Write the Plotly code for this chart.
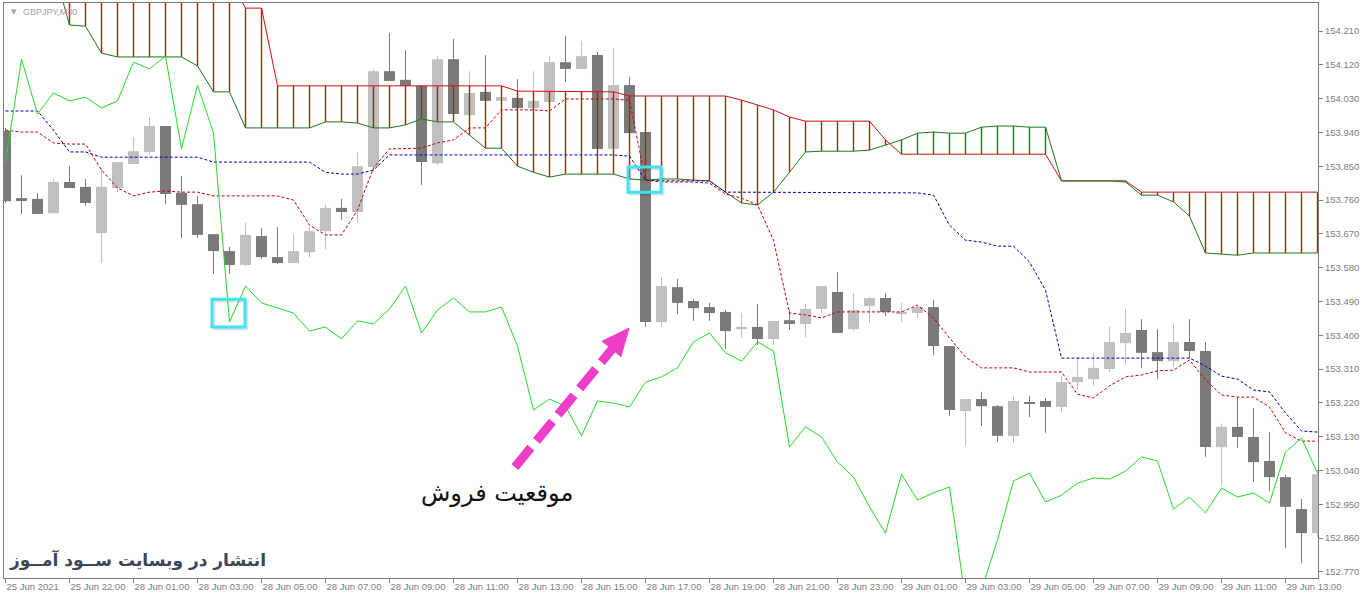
import plotly.graph_objects as go

# ---------------- data (GBPJPY M30) ----------------
bar_index = list(range(83))

opens = [153.944,153.765,153.763,153.725,153.808,153.795,153.672,153.792,153.856,153.888,
         153.957,153.779,153.749,153.669,153.624,153.587,153.664,153.608,153.592,153.621,
         153.677,153.739,153.728,153.848,154.103,154.080,154.064,153.858,154.135,153.986,
         154.048,154.024,154.032,154.005,154.021,154.127,154.109,154.146,153.896,154.066,
         153.941,153.435,153.528,153.491,153.475,153.462,153.416,153.422,153.390,153.440,
         153.430,153.470,153.515,153.416,153.478,153.499,153.456,153.459,153.475,153.371,
         153.198,153.230,153.211,153.132,153.222,153.225,153.209,153.275,153.283,153.310,
         153.379,153.414,153.355,153.331,153.382,153.358,153.102,153.156,153.129,153.065,
         153.022,152.937,152.873]
highs = [153.952,153.826,153.779,153.816,153.850,153.816,153.845,153.861,153.928,153.981,
         153.957,153.824,153.771,153.669,153.635,153.699,153.685,153.688,153.669,153.688,
         153.747,153.763,153.888,154.109,154.205,154.159,154.064,154.143,154.189,154.103,
         154.146,154.037,154.082,154.103,154.143,154.197,154.183,154.154,154.165,154.088,
         153.941,153.555,153.550,153.496,153.486,153.467,153.459,153.483,153.438,153.467,
         153.483,153.531,153.568,153.512,153.502,153.512,153.486,153.480,153.494,153.371,
         153.230,153.249,153.214,153.238,153.238,153.233,153.291,153.342,153.353,153.422,
         153.470,153.443,153.416,153.432,153.443,153.382,153.164,153.235,153.206,153.142,
         153.028,152.964,153.041]
lows = [153.752,153.723,153.723,153.725,153.792,153.744,153.592,153.781,153.856,153.880,
        153.749,153.659,153.659,153.563,153.563,153.584,153.603,153.590,153.592,153.608,
        153.629,153.707,153.701,153.834,154.077,154.064,153.800,153.853,153.989,153.986,
        154.024,154.021,154.005,154.005,154.021,154.074,154.109,153.896,153.896,153.938,
        153.422,153.422,153.456,153.438,153.438,153.363,153.393,153.374,153.374,153.414,
        153.395,153.459,153.406,153.411,153.432,153.451,153.435,153.446,153.347,153.185,
        153.105,153.158,153.116,153.113,153.182,153.140,153.196,153.254,153.265,153.302,
        153.321,153.313,153.283,153.315,153.339,153.076,153.001,153.100,153.009,152.985,
        152.833,152.793,152.860]
closes = [153.757,153.760,153.723,153.808,153.792,153.752,153.795,153.861,153.890,153.957,
          153.776,153.747,153.667,153.624,153.587,153.667,153.608,153.592,153.624,153.677,
          153.739,153.728,153.850,154.103,154.077,154.064,153.861,154.135,153.989,154.045,
          154.024,154.034,154.005,154.024,154.127,154.109,154.143,153.896,154.066,153.938,
          153.435,153.531,153.486,153.472,153.459,153.411,153.422,153.390,153.438,153.430,
          153.470,153.531,153.406,153.467,153.499,153.462,153.462,153.475,153.371,153.201,
          153.230,153.211,153.132,153.225,153.219,153.209,153.275,153.289,153.313,153.382,
          153.406,153.353,153.331,153.382,153.358,153.102,153.156,153.129,153.062,153.022,
          152.943,152.873,153.030]

# closes of the 26 bars after the visible window (needed by the lagging span)
later_closes = [152.961,152.980,152.996,152.695,152.722,152.855,153.012,153.033,152.956,152.974,
                153.006,153.020,153.017,153.038,153.076,153.065,152.937,152.969,152.927,152.993,
                152.969,152.980,152.953,153.089,153.126,153.033]

tenkan = [153.946,153.941,153.941,153.912,153.909,153.909,153.840,153.792,153.771,153.781,
          153.784,153.781,153.781,153.771,153.771,153.771,153.771,153.771,153.760,153.693,
          153.667,153.667,153.733,153.846,153.896,153.896,153.898,153.912,153.920,153.952,
          153.952,154.000,154.000,154.000,153.997,154.029,154.029,154.029,154.029,154.026,
          153.813,153.808,153.808,153.808,153.805,153.776,153.765,153.747,153.653,153.459,
          153.454,153.446,153.462,153.462,153.462,153.462,153.462,153.480,153.446,153.393,
          153.342,153.313,153.313,153.313,153.302,153.302,153.302,153.243,153.233,153.265,
          153.289,153.294,153.305,153.307,153.334,153.281,153.241,153.235,153.235,153.209,
          153.140,153.118,153.118]
kijun = [153.997,153.997,153.997,153.946,153.888,153.888,153.874,153.874,153.874,153.874,
         153.874,153.874,153.874,153.861,153.861,153.861,153.861,153.861,153.861,153.861,
         153.834,153.829,153.829,153.840,153.880,153.880,153.880,153.880,153.880,153.880,
         153.880,153.880,153.880,153.880,153.880,153.880,153.880,153.880,153.880,153.877,
         153.813,153.811,153.811,153.811,153.811,153.781,153.781,153.781,153.781,153.781,
         153.781,153.781,153.781,153.781,153.781,153.781,153.781,153.779,153.773,153.693,
         153.653,153.648,153.637,153.637,153.595,153.520,153.339,153.339,153.339,153.339,
         153.339,153.339,153.339,153.339,153.339,153.318,153.291,153.283,153.254,153.249,
         153.193,153.145,153.142]
span_a = [154.399,154.399,154.399,154.378,154.226,154.223,154.151,154.141,154.141,154.141,
          154.141,154.141,154.117,154.048,154.048,153.952,153.952,153.952,153.952,153.952,
          153.968,153.968,153.965,153.952,153.952,153.960,153.976,153.968,153.968,153.933,
          153.898,153.898,153.850,153.834,153.821,153.829,153.829,153.829,153.829,153.816,
          153.813,153.816,153.816,153.813,153.811,153.781,153.752,153.747,153.781,153.834,
          153.888,153.890,153.890,153.890,153.893,153.906,153.920,153.938,153.941,153.938,
          153.938,153.954,153.957,153.957,153.954,153.954,153.811,153.811,153.811,153.811,
          153.808,153.773,153.773,153.755,153.717,153.619,153.616,153.613,153.619,153.619,
          153.619,153.619,153.619]
span_b = [154.346,154.346,154.346,154.346,154.346,154.346,154.346,154.346,154.346,154.346,
          154.346,154.346,154.346,154.346,154.346,154.271,154.271,154.064,154.064,154.064,
          154.064,154.064,154.064,154.064,154.064,154.064,154.064,154.064,154.064,154.064,
          154.064,154.064,154.050,154.050,154.050,154.050,154.050,154.050,154.048,154.037,
          154.037,154.037,154.037,154.037,154.037,154.037,154.026,154.013,154.000,153.981,
          153.970,153.970,153.970,153.970,153.970,153.920,153.882,153.882,153.882,153.882,
          153.882,153.882,153.882,153.882,153.882,153.882,153.811,153.811,153.811,153.811,
          153.811,153.781,153.781,153.781,153.781,153.781,153.781,153.781,153.781,153.781,
          153.781,153.781,153.781]

chikou = closes[26:] + later_closes

x_tick_vals = [0, 4, 8, 12, 16, 20, 24, 28, 32, 36, 40, 44, 48, 52, 56, 60, 64, 68, 72, 76, 80]
x_tick_text = ["25 Jun 2021", "25 Jun 22:00", "28 Jun 01:00", "28 Jun 03:00", "28 Jun 05:00",
               "28 Jun 07:00", "28 Jun 09:00", "28 Jun 11:00", "28 Jun 13:00", "28 Jun 15:00",
               "28 Jun 17:00", "28 Jun 19:00", "28 Jun 21:00", "28 Jun 23:00", "29 Jun 01:00",
               "29 Jun 03:00", "29 Jun 05:00", "29 Jun 07:00", "29 Jun 09:00", "29 Jun 11:00",
               "29 Jun 13:00"]
y_tick_vals = [154.210, 154.120, 154.030, 153.940, 153.850, 153.760, 153.670, 153.580, 153.490,
               153.400, 153.310, 153.220, 153.130, 153.040, 152.950, 152.860, 152.770]

# ---------------- styling ----------------
BEAR = "#7a7a7a"
BULL = "#c0c0c0"
RED = "#d01010"
GREEN = "#1a7a1a"
AXIS = "#7d7d7d"

fig = go.Figure()

# wicks
for is_bull, col in ((False, BEAR), (True, BULL)):
    wx, wy = [], []
    for i in bar_index:
        if (closes[i] >= opens[i]) == is_bull:
            wx += [i, i, None]
            wy += [lows[i], highs[i], None]
    fig.add_trace(go.Scatter(x=wx, y=wy, mode="lines", line=dict(color=col, width=1),
                             hoverinfo="skip"))

# bodies
for is_bull, col in ((False, BEAR), (True, BULL)):
    bx, bbase, bh = [], [], []
    for i in bar_index:
        if (closes[i] >= opens[i]) == is_bull:
            bx.append(i)
            bbase.append(min(opens[i], closes[i]))
            bh.append(max(abs(closes[i] - opens[i]), 0.0027))
    fig.add_trace(go.Bar(x=bx, y=bh, base=bbase, width=0.69,
                         marker=dict(color=col, line=dict(width=0)), hoverinfo="skip"))

# cloud hatch: one vertical stroke per bar between the two spans
for a_above, col in ((False, RED), (True, GREEN)):
    hx, hy = [], []
    for i in bar_index:
        if abs(span_a[i] - span_b[i]) > 1e-9 and (span_a[i] > span_b[i]) == a_above:
            hx += [i, i, None]
            hy += [span_a[i], span_b[i], None]
    fig.add_trace(go.Scatter(x=hx, y=hy, mode="lines", line=dict(color=col, width=1.4),
                             hoverinfo="skip"))

fig.add_trace(go.Scatter(x=bar_index, y=span_b, mode="lines", line=dict(color=RED, width=1)))
fig.add_trace(go.Scatter(x=bar_index, y=span_a, mode="lines", line=dict(color=GREEN, width=1)))
fig.add_trace(go.Scatter(x=bar_index, y=kijun, mode="lines",
                         line=dict(color="#0000b4", width=1, dash="3px,2px")))
fig.add_trace(go.Scatter(x=bar_index, y=tenkan, mode="lines",
                         line=dict(color="#c80000", width=1, dash="3px,2px")))
fig.add_trace(go.Scatter(x=bar_index, y=chikou, mode="lines",
                         line=dict(color="#22dd22", width=1)))

# ---------------- annotations ----------------
CYAN = "#3ee4f0"
for (x0, x1, y0, y1) in ((12.906, 14.969, 153.422, 153.496), (38.906, 40.969, 153.781, 153.848)):
    fig.add_shape(type="rect", x0=x0 + 0.12, x1=x1 + 0.12, y0=y0 - 0.005, y1=y1 - 0.005,
                  line=dict(color="rgba(0,0,0,0.12)", width=3))
    fig.add_shape(type="rect", x0=x0, x1=x1, y0=y0, y1=y1, line=dict(color=CYAN, width=3))

MAGENTA = "#ee3ec9"
fig.add_shape(type="line", x0=31.84, y0=153.049, x1=37.91, y1=153.363,
              line=dict(color=MAGENTA, width=9, dash="25px,9px"))
fig.add_shape(type="path", path="M 38.97 153.419 L 38.47 153.343 L 37.29 153.384 Z",
              fillcolor=MAGENTA, line=dict(color=MAGENTA, width=1))

fig.add_annotation(x=30.72, y=152.980, text="موقعیت فروش", showarrow=False,
                   font=dict(family="DejaVu Sans", size=24, color="#111111"))
fig.add_annotation(x=8.28, y=152.801, text="<b>انتشار در وبسایت ســود آمــوز</b>", showarrow=False,
                   font=dict(family="DejaVu Sans", size=17, color="#3c4656"))
fig.add_annotation(xref="paper", yref="paper", x=0.004, y=0.985, xanchor="left", yanchor="middle",
                   text="▼", showarrow=False, font=dict(family="DejaVu Sans", size=7, color="#a0a0a0"))
fig.add_annotation(xref="paper", yref="paper", x=0.0128, y=0.985, xanchor="left", yanchor="middle",
                   text="GBPJPY,M30", showarrow=False,
                   font=dict(family="Liberation Sans", size=9, color="#a0a0a0"))

fig.update_layout(
    width=1364, height=597,
    margin=dict(l=4, r=46, t=3, b=19),
    paper_bgcolor="white", plot_bgcolor="white",
    showlegend=False, hovermode=False, barmode="overlay",
    xaxis=dict(range=[-0.09375, 82.03125], tickvals=x_tick_vals, ticktext=x_tick_text,
               ticks="outside", ticklen=4, tickcolor=AXIS, showline=True, linecolor=AXIS,
               linewidth=1, mirror=True, showgrid=False, zeroline=False,
               ticklabelposition="outside right",
               tickfont=dict(family="Liberation Sans", size=9.5, color=AXIS)),
    yaxis=dict(range=[152.7535, 154.2846], side="right", tickvals=y_tick_vals,
               ticktext=["%.3f" % v for v in y_tick_vals],
               ticks="outside", ticklen=4, tickcolor=AXIS, showline=True, linecolor=AXIS,
               linewidth=1, mirror=True, showgrid=False, zeroline=False,
               tickfont=dict(family="Liberation Sans", size=9.5, color=AXIS)),
)

fig.write_html("out.html", config={"displayModeBar": False},
               post_script="document.body.style.margin='0';document.body.style.overflow='hidden';")
